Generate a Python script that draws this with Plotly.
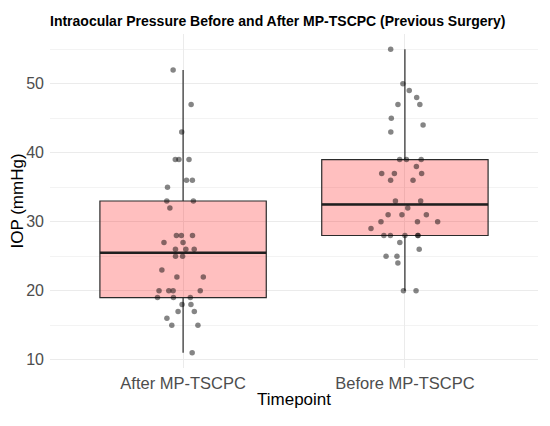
import numpy as np
import plotly.graph_objects as go

# IOP readings (mmHg)
timepoints = ['After MP-TSCPC', 'Before MP-TSCPC']
iop_after = [52, 47, 43, 39, 39, 39, 36, 36, 35, 33, 33, 32, 28, 28, 28, 27, 27, 26, 26, 26,
             25, 25, 23, 22, 22, 20, 20, 20, 20, 19, 19, 19, 18, 18, 17, 17, 16, 15, 15, 11]
iop_before = [55, 50, 49, 48, 47, 47, 45, 44, 43, 39, 39, 39, 38, 37, 37, 37, 36, 36, 33, 33,
              32, 31, 31, 31, 30, 30, 30, 29, 28, 28, 28, 28, 28, 27, 26, 25, 25, 24, 20, 20]
y_ticks = [10, 20, 30, 40, 50]

FONT = 'Liberation Sans, Arial, sans-serif'

xs = [timepoints[0]] * len(iop_after) + [timepoints[1]] * len(iop_before)
ys = iop_after + iop_before
medians = [float(np.median(iop_after)), float(np.median(iop_before))]

fig = go.Figure()

# box + whiskers
fig.add_trace(go.Box(
    x=xs, y=ys, boxpoints=False, width=0.75, whiskerwidth=0,
    fillcolor='rgba(255,0,0,0.25)', line=dict(color='#2b2b2b', width=1.2),
    quartilemethod='linear', showlegend=False, hoverinfo='skip',
))

# thicker median line (flat box at the median)
fig.add_trace(go.Box(
    x=timepoints, q1=medians, median=medians, q3=medians,
    lowerfence=medians, upperfence=medians, width=0.75, whiskerwidth=0,
    fillcolor='rgba(0,0,0,0)', line=dict(color='#1f1f1f', width=2.4),
    showlegend=False, hoverinfo='skip',
))

# jittered points on top
fig.add_trace(go.Box(
    x=xs, y=ys, boxpoints='all', jitter=0.42, pointpos=0, width=0.75,
    fillcolor='rgba(0,0,0,0)', line=dict(color='rgba(0,0,0,0)', width=0),
    marker=dict(color='rgba(0,0,0,0.48)', size=5.5, line=dict(width=0)),
    showlegend=False,
))

# the page body adds an 8px offset, so margins are shifted to compensate
fig.update_layout(
    width=550, height=426,
    margin=dict(l=42, r=20, t=26, b=66),
    paper_bgcolor='white', plot_bgcolor='white',
    font=dict(family=FONT, color='#4D4D4D'),
    title=dict(text='<b>Intraocular Pressure Before and After MP-TSCPC (Previous Surgery)</b>',
               font=dict(size=14, color='black', family=FONT),
               x=0, xref='paper', xanchor='left',
               y=1 - 13 / 426, yref='container', yanchor='middle'),
    boxmode='overlay',
)

fig.update_xaxes(
    type='category', range=[-0.6, 1.6], automargin=False,
    showgrid=True, gridcolor='#EBEBEB', gridwidth=1,
    showline=False, zeroline=False, ticks='', ticklabelstandoff=3,
    tickfont=dict(size=16.5, color='#4D4D4D'),
    title=dict(text='Timepoint', font=dict(size=17, color='black'), standoff=2),
)
fig.update_yaxes(
    range=[8.8, 57.2], tickvals=y_ticks, automargin=False,
    showgrid=True, gridcolor='#EBEBEB', gridwidth=1,
    minor=dict(dtick=5, tick0=5, showgrid=True, gridcolor='#F3F3F3', gridwidth=0.6),
    showline=False, zeroline=False, ticks='', ticklabelstandoff=5,
    tickfont=dict(size=16, color='#4D4D4D'),
    title=dict(text='IOP (mmHg)', font=dict(size=17, color='black'), standoff=9),
)

fig.write_html('out.html')
